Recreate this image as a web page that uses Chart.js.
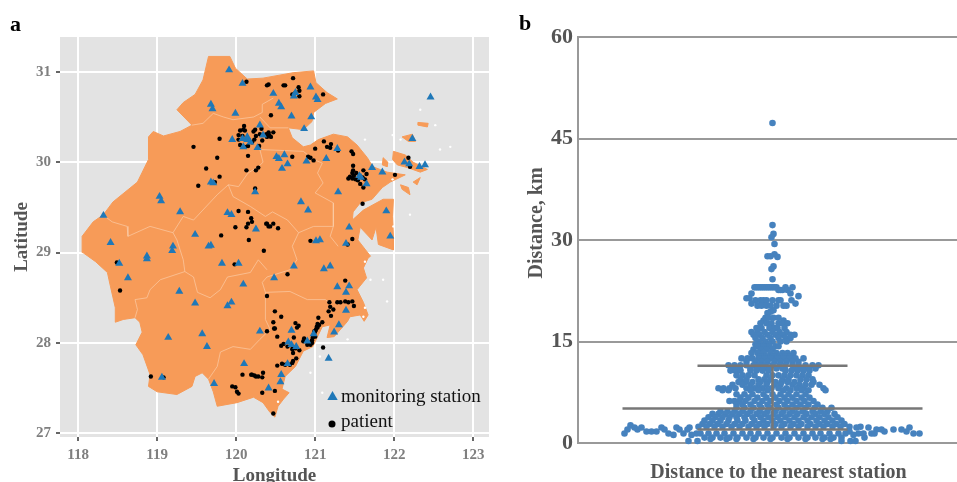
<!DOCTYPE html>
<html>
<head>
<meta charset="utf-8">
<title>Stations and patients</title>
<script src="https://cdn.jsdelivr.net/npm/chart.js@4/dist/chart.umd.js"></script>
<style>
  html, body { margin: 0; padding: 0; background: #fff; width: 957px; height: 482px; overflow: hidden; }
  canvas { position: absolute; top: 0; }
  #map { left: 0; }
  #swarm { left: 510px; }
</style>
</head>
<body>
<canvas id="map" width="510" height="482"></canvas>
<canvas id="swarm" width="473" height="482"></canvas>
<script>
/* ---- panel a data, lon/lat ---- */
const lonTicks = [118, 119, 120, 121, 122, 123];
const latTicks = [27, 28, 29, 30, 31];

const mainland = [[119.65,31.17],[119.92,31.17],[119.99,31.04],[120.14,30.92],[120.34,30.93],[120.72,30.99],[120.98,31.01],[121.01,30.88],[121.15,30.77],[121.28,30.70],[121.13,30.65],[120.98,30.55],[120.96,30.45],[120.85,30.36],[120.66,30.38],[120.71,30.27],[120.85,30.17],[120.94,30.19],[121.04,30.25],[121.23,30.31],[121.41,30.28],[121.53,30.19],[121.66,30.05],[121.73,29.95],[121.91,29.89],[122.14,29.86],[121.95,29.78],[121.85,29.72],[121.72,29.59],[121.57,29.55],[121.48,29.45],[121.47,29.36],[121.61,29.47],[121.86,29.59],[121.99,29.59],[121.98,29.40],[121.99,29.18],[121.99,29.03],[121.80,29.09],[121.77,29.28],[121.72,29.14],[121.57,29.28],[121.54,29.14],[121.70,28.96],[121.67,28.94],[121.61,28.83],[121.65,28.72],[121.53,28.59],[121.61,28.45],[121.67,28.31],[121.62,28.24],[121.57,28.31],[121.44,28.29],[121.41,28.24],[121.24,28.07],[121.15,28.06],[121.19,28.20],[121.09,28.18],[120.97,27.96],[120.85,27.91],[120.75,27.74],[120.62,27.63],[120.58,27.49],[120.67,27.45],[120.60,27.38],[120.53,27.30],[120.49,27.18],[120.43,27.23],[120.34,27.34],[120.22,27.40],[120.01,27.34],[119.76,27.30],[119.71,27.46],[119.65,27.60],[119.57,27.67],[119.48,27.63],[119.44,27.52],[119.25,27.43],[119.00,27.46],[118.89,27.52],[118.91,27.65],[118.82,27.87],[118.73,27.98],[118.81,28.12],[118.78,28.23],[118.72,28.28],[118.57,28.26],[118.47,28.23],[118.47,28.39],[118.41,28.62],[118.37,28.78],[118.22,28.90],[118.06,29.00],[118.05,29.18],[118.19,29.34],[118.32,29.42],[118.44,29.56],[118.75,29.78],[118.89,30.03],[118.89,30.28],[118.95,30.34],[119.08,30.29],[119.29,30.34],[119.44,30.41],[119.25,30.58],[119.33,30.66],[119.48,30.75],[119.58,30.91],[119.65,31.17]];

const islands = [
  [[121.99,30.12],[122.14,30.08],[122.24,30.00],[122.42,29.92],[122.33,29.89],[122.17,29.94],[122.04,29.97],[121.98,30.03],[121.99,30.12]],
  [[122.10,30.28],[122.23,30.31],[122.27,30.23],[122.18,30.23],[122.10,30.28]],
  [[122.30,30.44],[122.43,30.43],[122.42,30.39],[122.30,30.41],[122.30,30.44]],
  [[121.86,30.05],[121.92,30.00],[121.91,29.95],[121.85,29.97],[121.86,30.05]],
  [[122.08,29.75],[122.18,29.72],[122.20,29.64],[122.10,29.70],[122.08,29.75]],
  [[122.24,29.78],[122.33,29.83],[122.29,29.75],[122.24,29.78]]
];

const cityBorders = [
  [[119.44,30.41],[119.58,30.43],[119.71,30.54],[119.84,30.50],[119.96,30.47],[120.22,30.50],[120.33,30.55],[120.33,30.64],[120.47,30.71]],
  [[120.30,30.50],[120.43,30.38],[120.66,30.38]],
  [[120.85,30.12],[120.30,30.14],[120.34,30.00],[120.28,29.95],[120.15,29.88],[120.03,29.73],[119.90,29.75],[119.96,29.62],[120.18,29.51]],
  [[120.85,30.12],[120.98,30.03],[121.09,29.99],[121.03,29.88],[121.10,29.77],[121.00,29.66],[121.23,29.55],[121.23,29.29],[121.19,29.18],[121.29,29.07]],
  [[121.23,29.29],[120.98,29.29],[120.79,29.22],[120.65,29.36],[120.46,29.45],[120.37,29.40],[120.18,29.51]],
  [[120.79,29.22],[120.71,29.07],[120.77,28.92],[120.68,28.81],[120.39,28.73],[120.33,28.67],[120.37,28.56],[120.68,28.57],[120.90,28.48],[121.13,28.48],[121.19,28.43]],
  [[118.28,29.44],[118.43,29.34],[118.62,29.29],[118.63,29.18],[118.91,29.29],[119.20,29.22],[119.33,29.40],[119.46,29.36],[119.76,29.64],[119.90,29.75]],
  [[119.20,29.22],[119.25,29.14],[119.33,28.92],[119.35,28.79],[119.04,28.70],[118.91,28.59],[118.87,28.50],[118.72,28.48],[118.75,28.37],[118.72,28.28]],
  [[119.35,28.79],[119.46,28.73],[119.51,28.56],[119.67,28.50],[119.80,28.59],[119.89,28.73],[120.18,28.78],[120.28,28.92],[120.39,28.81]],
  [[119.65,27.60],[119.76,27.74],[119.80,27.90],[119.96,27.96],[120.18,27.93],[120.30,28.04],[120.43,28.15],[120.37,28.26],[120.37,28.56]]
];

const islets = [[121.98,30.30],[121.63,30.25],[122.33,30.58],[122.52,30.41],[122.71,30.17],[122.08,30.25],[122.58,30.14],[122.20,29.42],[121.99,29.29],[121.98,29.81],[121.86,28.70],[121.91,28.46],[121.63,28.39],[121.41,28.04],[121.10,27.95],[121.06,27.85],[120.94,27.67],[121.09,27.45],[120.53,27.35],[121.61,28.29],[121.63,28.90],[121.70,28.70]];

const stations = [[119.91,31.02],[120.08,30.87],[119.68,30.64],[119.70,30.59],[119.99,30.54],[120.30,30.41],[120.34,30.30],[119.95,30.25],[120.14,30.25],[120.09,30.17],[120.18,30.22],[120.14,30.28],[120.08,30.26],[120.27,30.16],[119.68,29.78],[119.71,29.77],[120.24,29.67],[119.03,29.62],[119.05,29.57],[118.32,29.41],[119.29,29.45],[119.89,29.44],[119.94,29.42],[120.25,29.26],[119.48,29.20],[118.41,29.11],[119.20,29.07],[119.68,29.08],[119.65,29.07],[119.19,29.02],[118.87,28.96],[118.87,28.93],[118.52,28.88],[119.82,28.88],[120.03,28.88],[118.63,28.72],[120.09,28.65],[119.28,28.57],[119.48,28.44],[119.94,28.45],[119.89,28.41],[120.30,28.13],[119.57,28.10],[119.14,28.06],[119.63,27.96],[120.10,27.77],[119.06,27.62],[119.72,27.55],[120.41,27.50],[120.47,30.76],[120.54,30.65],[120.57,30.61],[120.75,30.77],[120.73,30.73],[120.94,30.83],[121.01,30.72],[121.03,30.69],[120.70,30.51],[120.95,30.50],[120.86,30.37],[121.28,30.15],[120.51,30.06],[120.54,30.04],[120.61,30.08],[121.14,30.04],[120.89,30.01],[120.65,29.98],[120.58,29.93],[121.72,29.94],[121.85,29.89],[121.56,29.85],[121.58,29.83],[121.65,29.76],[121.29,29.67],[122.46,30.72],[122.23,30.26],[122.13,30.00],[122.19,29.98],[122.32,29.95],[122.39,29.97],[120.82,29.56],[120.91,29.47],[121.90,29.46],[121.43,29.28],[121.01,29.13],[121.06,29.14],[121.39,29.10],[121.95,29.18],[120.73,28.85],[121.11,28.82],[121.19,28.85],[120.48,28.72],[121.28,28.62],[121.43,28.63],[121.39,28.56],[121.39,28.36],[121.30,28.20],[121.24,28.12],[120.70,28.14],[120.98,28.10],[120.90,28.02],[120.66,28.01],[120.70,27.98],[120.76,27.96],[121.17,27.83],[120.65,27.77],[120.57,27.65],[120.56,27.57]];

const patients = [[120.13,30.89],[120.39,30.85],[120.10,30.40],[120.05,30.35],[120.09,30.36],[120.11,30.35],[120.03,30.30],[120.08,30.29],[120.03,30.25],[120.05,30.19],[120.11,30.17],[120.15,30.18],[120.22,30.34],[120.24,30.36],[120.25,30.29],[120.23,30.25],[120.20,30.22],[120.29,30.18],[120.33,30.24],[120.38,30.31],[120.42,30.30],[120.44,30.28],[120.47,30.33],[120.32,30.37],[119.79,30.26],[119.46,30.17],[119.76,30.05],[120.15,30.07],[119.62,29.93],[120.13,29.91],[120.28,29.94],[120.25,29.91],[119.79,29.84],[119.73,29.78],[119.52,29.74],[120.24,29.71],[120.03,29.46],[120.15,29.45],[120.19,29.38],[120.20,29.34],[120.15,29.32],[120.13,29.28],[119.99,29.28],[120.39,29.32],[120.43,29.29],[119.81,29.19],[120.16,29.14],[120.35,29.02],[118.49,28.89],[119.98,28.87],[118.53,28.58],[120.39,28.52],[120.39,28.13],[118.92,27.63],[119.08,27.62],[120.08,27.65],[120.19,27.65],[120.20,27.65],[120.23,27.64],[120.25,27.63],[120.28,27.63],[120.33,27.62],[120.34,27.67],[119.95,27.52],[119.99,27.51],[120.01,27.46],[120.03,27.44],[120.33,27.45],
  [120.41,30.86],[120.60,30.85],[120.62,30.85],[120.72,30.93],[120.79,30.83],[120.80,30.79],[120.71,30.75],[120.80,30.73],[120.75,30.77],[121.10,30.75],[120.44,30.52],[120.41,30.33],[120.39,30.28],[120.30,30.31],[121.11,30.23],[121.00,30.15],[121.15,30.17],[121.20,30.20],[121.19,30.16],[121.29,30.13],[121.46,30.12],[121.48,30.09],[120.71,30.06],[120.91,30.06],[120.94,30.05],[120.98,30.02],[121.48,29.96],
  [121.61,29.91],[121.65,29.87],[121.48,29.91],[121.47,29.88],[121.44,29.84],[121.42,29.82],[121.47,29.82],[121.51,29.81],[121.54,29.80],[121.57,29.76],[121.61,29.72],[121.63,29.81],[121.52,29.88],[121.60,29.83],[121.49,29.85],
  [122.01,29.86],[122.18,30.05],[122.20,29.95],[121.60,29.54],[120.38,29.32],[120.41,29.29],[120.47,29.32],[120.53,29.27],[120.94,29.13],[121.47,29.15],[121.41,29.09],[120.65,28.76],[121.38,28.69],
  [121.18,28.45],[121.19,28.40],[121.28,28.45],[121.32,28.45],[121.38,28.46],[121.42,28.45],[121.47,28.46],[121.49,28.41],[121.23,28.37],[121.17,28.35],[121.20,28.30],[120.49,28.35],[120.57,28.29],[120.47,28.23],[120.48,28.16],[120.49,28.16],[120.52,28.07],[120.75,28.22],[120.79,28.19],[120.77,28.17],[120.73,28.06],
  [121.04,28.28],[121.09,28.23],[121.05,28.20],[121.03,28.17],[121.00,28.13],[120.98,28.09],[121.00,28.07],[120.96,28.03],[120.94,27.98],[120.90,27.98],[120.85,28.02],[120.86,28.05],[121.02,28.18],[121.01,28.15],[120.99,28.11],[120.97,28.06],[120.95,28.01],[120.92,27.99],[120.96,28.00],[121.03,28.21],[120.99,28.13],[120.93,28.00],
  [120.60,27.99],[120.65,27.96],[120.71,27.93],[120.72,27.89],[120.57,27.97],[120.75,27.94],[120.80,27.92],[120.72,27.95],[120.72,27.80],[120.71,27.78],[120.76,27.83],[120.68,27.76],[120.52,27.75],[120.58,27.77],[120.62,27.76],[120.49,27.47],[120.47,27.22],[121.10,27.95]];

const legendNames = ["monitoring station", "patient"];

/* ---- panel b data: km value, then the horizontal swarm offsets at that value ---- */
const distTicks = [0, 15, 30, 45, 60];
const medianKm = 5.1, upperKm = 11.4, lowerKm = 2.0;
const swarmRows = [
  [47.3,[0]],[32.2,[0]],[30.9,[1]],[30.4,[-1]],[29.4,[2]],[27.9,[2]],[27.6,[-5,-2]],[27.5,[5]],[26.1,[1]],[25.7,[-1]],[24.2,[0]],
  [23.0,[-18,-16,-14,-12,-10,-8,-6,-4,-2,0,2,4,13,20]],
  [22.6,[6,8,10,15]],[22.1,[-21,18]],[21.7,[26]],[21.4,[-26,-23]],
  [21.1,[-17,-12,-9,-6,0,6,8,19]],[20.6,[-21,23]],[20.3,[-15,-11,-6,-2,4,11,14]],
  [19.6,[1]],[19.4,[-2]],[19.2,[-5]],[18.5,[-7,-4,1,6]],[18.1,[-9,11]],
  [17.7,[-12,-6,-1,6,10,15]],[17.0,[-16,-11,-3,2,5,12]],[16.4,[-21,-15,-8,0,7,14]],
  [16.0,[-19,-13,-5,3,10,18,22]],[15.5,[-17,-10,-2,6,13,18]],[15.0,[-14,-7,0,8,14]],
  [14.6,[-17,-12,-4]],[14.3,[-15,-9,-3,3,6]],[13.8,[-19,-12,-6,0]],
  [13.3,[-21,-15,-9,-2,4,10,15,21]],[12.8,[-12,-6,1,8,13,18]],
  [12.5,[-31,-25,-20,-14,-8,-2,5,11,17,23,31]],[12.0,[-26,-17,-11,-5,2,8,14,20,26]],
  [11.5,[-44,-38,-32,-26,-19,-13,-7,0,7,13,20,26,33,40,46]],
  [11.0,[-40,-34,-22,-15,-9,-3,4,10,23,29,36,43]],
  [10.7,[-42,-37,-32,-22,-16,-10,-4,13,19,25,31,37]],
  [10.0,[-36,-30,-24,-18,-6,0,6,12,18,24,30,36]],
  [9.4,[-32,-26,-14,-8,-2,10,16,28,34,40]],
  [9.0,[-34,-27,-20,-12,-5,3,9,15,22,41]],
  [8.6,[-40,-30,-22,-14,-6,2,8,20,27,33,39,47]],
  [8.1,[-54,-49,-43,-37,-26,-18,-10,-1,6,14,24,31,51]],
  [7.8,[-50,-44,-22,-14,-5,11,18,29,36,53]],
  [7.2,[-36,-28,-20,-9,0,8,16,24,33]],
  [6.7,[-32,-24,-15,-6,3,12,20,29,37]],
  [6.2,[-43,-38,-33,-27,-18,-10,-2,7,15,24,32,41]],
  [5.7,[-36,-30,-22,-13,-5,4,12,20,28,36,45]],
  [5.2,[-36,-28,-19,-11,-3,6,15,24,33,42,50,59]],
  [4.7,[-52,-45,-38,-30,-22,-13,-5,3,11,20,30,40,48,55]],
  [4.3,[-60,-54,-47,-40,-33,-25,-16,-8,1,9,17,25,34,43,52,62]],
  [3.8,[-64,-57,-50,-43,-36,-28,-20,-12,-4,5,13,22,31,39,47,56,65]],
  [3.3,[-68,-60,-52,-44,-35,-27,-18,-9,0,8,17,26,35,44,52,60,69]],
  [2.8,[-70,-63,-55,-46,-38,-30,-21,-13,-5,3,12,21,29,38,47,55,64,72]],
  [2.6,[-142]],
  [2.4,[-74,-66,-58,-50,-41,-33,-24,-16,-8,1,9,18,26,35,43,51,60,68,77,88]],
  [2.3,[-138,-131,-111,-96,-83,84,96,137]],
  [2.0,[-145,-135,-108,-93,-85,104,109,121,129]],
  [1.7,[-126,-121,-116,77,112,134]],
  [1.4,[-148,-104,-89,-76,-72,-64,-56,-48,-39,-30,-22,-14,-5,4,13,22,31,40,48,57,66,73,86,91,99,102,141,147]],
  [1.2,[-99,-81,81]],
  [0.8,[-68,-60,-52,-43,-35,-26,-17,-9,0,9,17,26,35,43,52,61,69,92]],
  [0.6,[-62,-46,-36,-19,-2,15,33,50,58]],
  [0.3,[-84,-75,69,78,83]]
];

/* ---- shared bits ---- */
Chart.defaults.font.family = "'Liberation Serif', serif";
Chart.defaults.animation = false;
Chart.defaults.responsive = false;
Chart.defaults.plugins.legend.display = false;
Chart.defaults.plugins.tooltip.enabled = false;

const xy = pairs => pairs.map(p => ({ x: p[0], y: p[1] }));
const land = pts => ({ data: xy(pts), showLine: true, fill: "shape", pointRadius: 0, borderWidth: 1, borderColor: "#f79b58", backgroundColor: "#f79b58" });
const border = pts => ({ data: xy(pts), showLine: true, pointRadius: 0, borderWidth: 0.7, borderColor: "#fbcba6" });
const fixTicks = vals => s => { s.ticks = vals.map(v => ({ value: v })); };

const panelBg = {
  id: "panelBg",
  beforeDraw(c) {
    const a = c.chartArea, ctx = c.ctx;
    ctx.fillStyle = "#e3e3e3";
    ctx.fillRect(a.left, a.top, a.width, a.height);
  },
};

const mapNotes = {
  id: "mapNotes",
  afterDraw(c) {
    const ctx = c.ctx;
    ctx.save();
    ctx.fillStyle = "#000";
    ctx.font = "bold 22px 'Liberation Serif', serif";
    ctx.textBaseline = "alphabetic";
    ctx.fillText("a", 10, 31);
    ctx.fillStyle = "#1f78b8";
    Chart.helpers.drawPoint(ctx, { pointStyle: "triangle", radius: 6, borderWidth: 0, rotation: 0 }, 332.5, 397);
    ctx.fillStyle = "#000";
    Chart.helpers.drawPoint(ctx, { pointStyle: "circle", radius: 3.5, borderWidth: 0, rotation: 0 }, 332, 424);
    ctx.fillStyle = "#111";
    ctx.font = "19px 'Liberation Serif', serif";
    ctx.textBaseline = "middle";
    ctx.fillText(legendNames[0], 341, 397);
    ctx.fillText(legendNames[1], 341, 422);
    ctx.restore();
  },
};

/* ---- a. map ---- */
new Chart(document.getElementById("map"), {
  type: "scatter",
  plugins: [panelBg, mapNotes],
  data: { datasets: [
    { label: legendNames[0], data: xy(stations), pointStyle: "triangle", pointRadius: 4.6, borderWidth: 0, backgroundColor: "#1f78b8" },
    { label: legendNames[1], data: xy(patients), pointRadius: 2.2, borderWidth: 0, backgroundColor: "#000" },
    { data: xy(islets), pointRadius: 1.2, borderWidth: 0, backgroundColor: "#fff" },
    ...cityBorders.map(border),
    ...islands.map(land),
    land(mainland),
  ] },
  options: {
    layout: { padding: { top: 37, right: 21, left: 0, bottom: 0 } },
    scales: {
      x: {
        min: 117.77, max: 123.2, afterBuildTicks: fixTicks(lonTicks),
        afterFit: s => { s.height = 45; },
        grid: { color: "#fff", lineWidth: 2, tickColor: "#333", tickWidth: 1.5, tickLength: 4 },
        border: { display: false },
        ticks: { autoSkip: false, maxRotation: 0, padding: 5, color: "#7f7f7f", font: { size: 15, weight: "bold" } },
        title: { display: true, text: "Longitude", color: "#555", padding: { top: 0, bottom: -5 }, font: { size: 19, weight: "bold" } },
      },
      y: {
        min: 26.96, max: 31.385, afterBuildTicks: fixTicks(latTicks),
        afterFit: s => { s.width = 60; },
        grid: { color: "#fff", lineWidth: 2, tickColor: "#333", tickWidth: 1.5, tickLength: 4 },
        border: { display: false },
        ticks: { autoSkip: false, padding: 5, color: "#7f7f7f", font: { size: 15, weight: "bold" } },
        title: { display: true, text: "Latitude", color: "#555", padding: { top: 11, bottom: 0 }, font: { size: 19, weight: "bold" } },
      },
    },
  },
});

/* ---- b. swarm ---- */
const swarmPoints = swarmRows.flatMap(r => r[1].map(off => ({ x: off, y: r[0] })));
const bar = (x0, x1, y0, y1) => ({ data: [{ x: x0, y: y0 }, { x: x1, y: y1 }], showLine: true, pointRadius: 0, borderWidth: 2.5, borderColor: "#777" });

const swarmNotes = {
  id: "swarmNotes",
  afterDraw(c) {
    const ctx = c.ctx;
    ctx.save();
    ctx.fillStyle = "#000";
    ctx.font = "bold 22px 'Liberation Serif', serif";
    ctx.fillText("b", 9, 30);
    ctx.fillStyle = "#555";
    ctx.font = "bold 20px 'Liberation Serif', serif";
    ctx.translate(27, 223);
    ctx.rotate(-Math.PI / 2);
    ctx.textAlign = "center";
    ctx.textBaseline = "middle";
    ctx.fillText("Distance, km", 0, 0);
    ctx.restore();
  },
};

new Chart(document.getElementById("swarm"), {
  type: "scatter",
  plugins: [swarmNotes],
  data: { datasets: [
    bar(-75, 75, upperKm, upperKm),
    bar(-150, 150, medianKm, medianKm),
    bar(-75, 75, lowerKm, lowerKm),
    bar(0, 0, lowerKm, upperKm),
    { data: swarmPoints, pointRadius: 3.3, borderWidth: 0, backgroundColor: "#4682be", clip: false },
  ] },
  options: {
    layout: { padding: { top: 37, right: 0, left: 0, bottom: 0 } },
    scales: {
      x: {
        min: -194.5, max: 206.5,
        afterFit: s => { s.height = 39; },
        grid: { display: false },
        border: { display: false },
        ticks: { display: false },
        title: { display: true, text: "Distance to the nearest station", color: "#555", padding: { top: 0, bottom: -3 }, font: { size: 20, weight: "bold" } },
      },
      y: {
        min: 0, max: 60, afterBuildTicks: fixTicks(distTicks),
        afterFit: s => { s.width = 68; },
        grid: { color: "#999", lineWidth: 2, drawTicks: false },
        border: { color: "#999", width: 2 },
        ticks: { autoSkip: false, padding: 5, color: "#555", font: { size: 22, weight: "bold" } },
      },
    },
  },
});
</script>
</body>
</html>
